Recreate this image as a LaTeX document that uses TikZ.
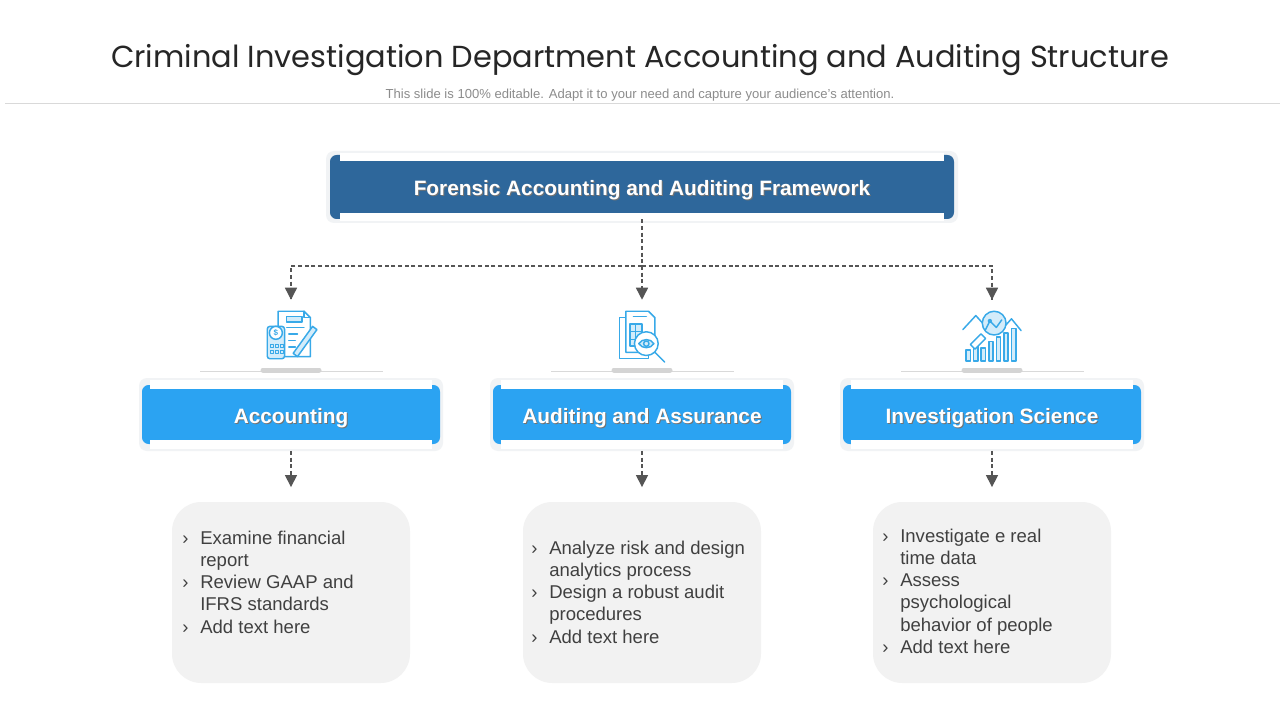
\documentclass[tikz,border=0pt]{standalone}
\usepackage{fontspec}
\setmainfont{Liberation Sans}
\newfontfamily\titlefont{Poppins}
\usetikzlibrary{arrows.meta}

\definecolor{frameblue}{HTML}{2E679B}
\definecolor{skyblue}{HTML}{2BA3F2}
\definecolor{iconblue}{HTML}{38A9E8}
\definecolor{iconfill}{HTML}{D3ECFA}
\definecolor{notegray}{HTML}{F2F2F2}
\definecolor{cardgray}{HTML}{F1F3F5}
\definecolor{linkgray}{HTML}{555555}
\definecolor{textgray}{HTML}{404040}

\begin{document}
\begin{tikzpicture}[x=0.75pt, y=-0.75pt,
  link/.style={draw=linkgray, line width=1.1pt, dash pattern=on 3pt off 2pt},
  tip/.style={-{Triangle[width=9pt,length=9pt]}, linkgray},
  boxtext/.style={text=white, font=\bfseries\fontsize{15.6}{18}\selectfont},
  shadowtext/.style={text=black!55, font=\bfseries\fontsize{15.6}{18}\selectfont},
  note/.style={fill=notegray, rounded corners=22pt, minimum width=178.5pt, minimum height=135.75pt},
  notetext/.style={text=textgray, font=\fontsize{13.9}{16.7}\selectfont, inner sep=0pt, anchor=base west},
  iconline/.style={draw=iconblue, line width=1.1pt, line join=round, line cap=round},
  iconspot/.style={minimum size=52.5pt, inner sep=0pt}]
\useasboundingbox (0,0) rectangle (1280,720);
\fill[white] (0,0) rectangle (1280,720);

% title
\node[text=black!85] (title) at (640,60) {\titlefont\fontsize{22.8}{28}\selectfont Criminal Investigation Department Accounting and Auditing Structure};
\node[text=black!45] (subtitle) at (640,95) {\fontsize{9.8}{11}\selectfont This slide is 100\% editable. Adapt it to your need and capture your audience’s attention.};
\draw[black!15] (5,103) -- (1280,103);

% top box
\fill[cardgray, rounded corners=6pt] (326,151) rectangle (958,223);
\node[fill=frameblue, rounded corners=5pt, minimum width=468pt, minimum height=48pt] (frame) at (642,187) {};
\fill[white] (340,153) rectangle (944,161);
\fill[white] (340,213) rectangle (944,221);
\node[shadowtext] at (643,191) {Forensic Accounting and Auditing Framework};
\node[boxtext] at (642,190) {Forensic Accounting and Auditing Framework};

% icon spots
\node[iconspot] (accticon) at (291,335) {};
\node[iconspot] (auditicon) at (642,335) {};
\node[iconspot] (invicon) at (992,335) {};

% connectors
\coordinate (split) at (642,266);
\draw[link] (frame.south) -- (split);
\draw[link] (split) -| (accticon.north);
\draw[link] (split) -| (invicon.north);
\draw[link, tip] (split) -- (auditicon.north);
\draw[link, tip] (291,290) -- (accticon.north);
\draw[link, tip] (992,290) -- (invicon.north);

% middle boxes
\foreach \cx/\nm/\lbl in {291/acct/Accounting, 642/audit/Auditing and Assurance, 992/invsci/Investigation Science} {
  \draw[black!15] (\cx-91,371) -- (\cx+92,371);
  \draw[black!17, line width=3.75pt, line cap=round] (\cx-28,370) -- (\cx+28,370);
  \fill[cardgray, rounded corners=6pt] (\cx-152,378) rectangle (\cx+152,451);
  \node[fill=skyblue, rounded corners=5pt, minimum width=223.5pt, minimum height=44.25pt] (\nm) at (\cx,414.5) {};
  \fill[white] (\cx-141,380) rectangle (\cx+141,389);
  \fill[white] (\cx-141,440) rectangle (\cx+141,449);
  \node[shadowtext] at (\cx+1,419) {\lbl};
  \node[boxtext] at (\cx,418) {\lbl};
}

% notes
\node[note] (acctnote) at (291,592.5) {};
\node[note] (auditnote) at (642,592.5) {};
\node[note] (invnote) at (992,592.5) {};

\draw[link, tip, shorten <=5pt, shorten >=11pt] (acct.south) -- (acctnote.north);
\draw[link, tip, shorten <=5pt, shorten >=11pt] (audit.south) -- (auditnote.north);
\draw[link, tip, shorten <=5pt, shorten >=11pt] (invsci.south) -- (invnote.north);

\node[notetext] (accttext) at (182,544) {\begin{tabular}[t]{@{}p{13.5pt}@{}l@{}}
› & Examine financial\\ & report\\
› & Review GAAP and\\ & IFRS standards\\
› & Add text here\end{tabular}};
\node[notetext] (audittext) at (531,554) {\begin{tabular}[t]{@{}p{13.5pt}@{}l@{}}
› & Analyze risk and design\\ & analytics process\\
› & Design a robust audit\\ & procedures\\
› & Add text here\end{tabular}};
\node[notetext] (invtext) at (882,542) {\begin{tabular}[t]{@{}p{13.5pt}@{}l@{}}
› & Investigate e real\\ & time data\\
› & Assess\\ & psychological\\ & behavior of people\\
› & Add text here\end{tabular}};

% accounting icon
\begin{scope}[shift={(291,335)}, scale=1.08]
  \filldraw[iconline, fill=white] (-12,-22) -- (12,-22) -- (18,-16) -- (18,20) -- (-12,20) -- cycle;
  \draw[iconline] (12,-22) -- (12,-16) -- (18,-16);
  \filldraw[iconline, fill=iconfill] (-4,-17) rectangle (10,-12);
  \draw[iconline] (-4,-7) -- (12,-7);
  \draw[iconline] (-2,-1) -- (6,-1);
  \draw[iconline] (-2,5) -- (4,5);
  \draw[iconline] (-2,11) -- (4,11);
  \filldraw[iconline, fill=iconfill] (2,17) -- (20,-8) -- (24,-5) -- (6,20) -- cycle;
  \filldraw[iconline, fill=iconfill, rounded corners=2pt] (-22,-8) rectangle (-6,22);
  \filldraw[iconline, fill=white] (-14,-2) circle (6);
  \node[text=iconblue, inner sep=0pt, font=\fontsize{6}{6}\selectfont\bfseries] (dollar) at (-14,-2) {\$};
  \foreach \i in {0,1,2} \foreach \j in {0,1} {
    \draw[iconline, line width=0.8pt] (-19+\i*4.5,9+\j*5) rectangle (-16+\i*4.5,12+\j*5);
  }
\end{scope}

% auditing icon
\begin{scope}[shift={(642,335)}, scale=1.08]
  \filldraw[iconline, fill=white] (-21,-16) rectangle (6,22);
  \filldraw[iconline, fill=white] (-15,-22) -- (6,-22) -- (12,-16) -- (12,16) -- (-15,16) -- cycle;
  \filldraw[iconline, fill=iconfill] (-11,-10) rectangle (0,10);
  \draw[iconline] (-11,-3) -- (0,-3);
  \draw[iconline] (-11,4) -- (0,4);
  \draw[iconline] (-6,-10) -- (-6,10);
  \draw[iconline] (-8,-17) -- (4,-17);
  \draw[iconline] (12,16) -- (21,25);
  \filldraw[iconline, fill=white] (4,8) circle (11);
  \filldraw[iconline, fill=iconfill] (-3,8) .. controls (0,3) and (8,3) .. (11,8) .. controls (8,13) and (0,13) .. (-3,8);
  \draw[iconline] (4,8) circle (2.5);
\end{scope}

% investigation icon
\begin{scope}[shift={(992,335)}, scale=1.08]
  \draw[iconline] (-27,-5) -- (-15,-18) -- (-6,-8);
  \draw[iconline] (10,-6) -- (18,-15) -- (27,-4);
  \foreach \bx/\bh in {-24/10, -17/16, -10/12, -3/18, 4/22, 11/26, 18/30} {
    \filldraw[iconline, fill=iconfill] (\bx,24) rectangle (\bx+4,24-\bh);
  }
  \filldraw[iconline, fill=white, rotate around={45:(-13,6)}] (-20,3) rectangle (-6,9);
  \filldraw[iconline, fill=iconfill] (2,-11) circle (11);
  \draw[iconline] (-6,-5) -- (-2,-13) -- (4,-7) -- (9,-14);
  \fill[iconblue] (-2,-13) circle (2);
\end{scope}
\end{tikzpicture}
\end{document}
